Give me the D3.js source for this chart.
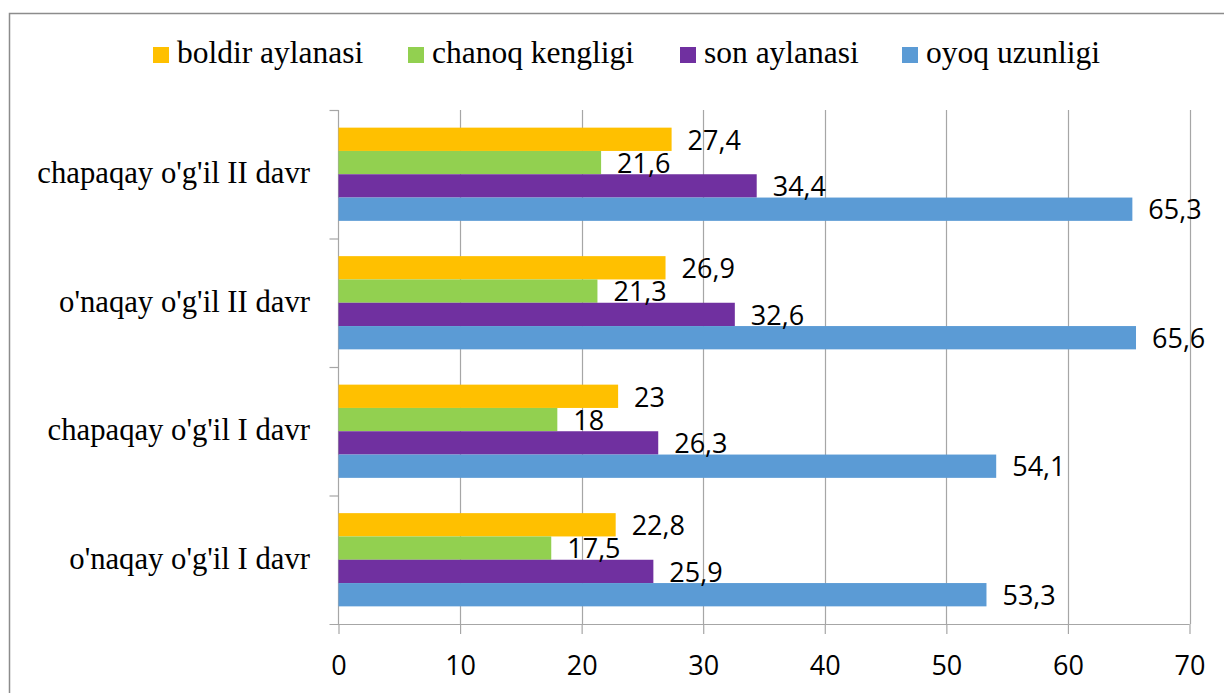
<!DOCTYPE html>
<html>
<head>
<meta charset="utf-8">
<script src="https://cdn.jsdelivr.net/npm/d3@7"></script>
<style>
  body { margin: 0; background: #fff; }
  svg { display: block; }
</style>
</head>
<body>
<div id="chart"></div>
<script>
"use strict"

const width = 1224;
const height = 693;

// groups, from top to bottom
const categories = [
    "chapaqay o'g'il II davr",
    "o'naqay o'g'il II davr",
    "chapaqay o'g'il I davr",
    "o'naqay o'g'il I davr"
];
const seriesNames = ["boldir aylanasi", "chanoq kengligi", "son aylanasi", "oyoq uzunligi"];
const seriesColors = ["#FFC000", "#92D050", "#7030A0", "#5B9BD5"];

// values per group, same order as categories
const boldirValues = [27.4, 26.9, 23, 22.8];
const chanoqValues = [21.6, 21.3, 18, 17.5];
const sonValues = [34.4, 32.6, 26.3, 25.9];
const oyoqValues = [65.3, 65.6, 54.1, 53.3];
const xTicks = [0, 10, 20, 30, 40, 50, 60, 70];

const seriesValues = [boldirValues, chanoqValues, sonValues, oyoqValues];

const plotLeft = 338.5;
const plotRight = 1189.5;
const plotTop = 110;
const plotBottom = 624;
const gridColor = "#a6a6a6";

const svg = d3.select("#chart").append("svg")
    .attr("width", width)
    .attr("height", height);

// chart frame
svg.append("rect")
    .attr("x", 9.5)
    .attr("y", 13.5)
    .attr("width", 1300)
    .attr("height", 800)
    .attr("fill", "none")
    .attr("stroke", "#8c8c8c")
    .attr("stroke-width", 1.5);

const x = d3.scaleLinear()
    .domain([0, 70])
    .range([plotLeft, plotRight]);

const y = d3.scaleBand()
    .domain(categories)
    .range([plotTop, plotBottom]);

const yInner = d3.scaleBand()
    .domain(seriesNames)
    .range([0, y.bandwidth()])
    .paddingInner(0)
    .paddingOuter(0.757);

// vertical gridlines
svg.append("g")
    .selectAll("line")
    .data(xTicks.slice(1))
    .enter()
    .append("line")
        .attr("x1", d => Math.round(x(d)) + 0.5)
        .attr("x2", d => Math.round(x(d)) + 0.5)
        .attr("y1", plotTop)
        .attr("y2", plotBottom)
        .attr("stroke", gridColor)
        .attr("stroke-width", 1.2);

// x axis
const xAxis = svg.append("g")
    .attr("transform", `translate(0,${plotBottom})`)
    .call(d3.axisBottom(x).tickValues(xTicks).tickSize(10).tickSizeOuter(0).tickPadding(22));
xAxis.select(".domain")
    .attr("d", `M${plotLeft - 9},0.5H${plotRight}`)
    .attr("stroke", gridColor)
    .attr("stroke-width", 1.2);
xAxis.selectAll(".tick line")
    .attr("stroke", gridColor)
    .attr("stroke-width", 1.2);
xAxis.selectAll(".tick text")
    .attr("font-family", "'Open Sans', sans-serif")
    .attr("font-size", "27px")
    .attr("fill", "#000");

// y axis line and category ticks
svg.append("line")
    .attr("x1", plotLeft)
    .attr("x2", plotLeft)
    .attr("y1", plotTop)
    .attr("y2", plotBottom)
    .attr("stroke", gridColor)
    .attr("stroke-width", 1.2);

svg.append("g")
    .selectAll("line")
    .data(categories)
    .enter()
    .append("line")
        .attr("x1", plotLeft - 9)
        .attr("x2", plotLeft)
        .attr("y1", d => y(d) + 0.5)
        .attr("y2", d => y(d) + 0.5)
        .attr("stroke", gridColor)
        .attr("stroke-width", 1.2);

svg.append("g")
    .selectAll("text")
    .data(categories)
    .enter()
    .append("text")
        .attr("x", 310)
        .attr("y", d => y(d) + y.bandwidth() / 2)
        .attr("dy", "0.3em")
        .attr("text-anchor", "end")
        .attr("font-family", "'Liberation Serif', 'Times New Roman', serif")
        .attr("font-size", "30.7px")
        .attr("fill", "#000")
        .text(d => d);

// bars
const barData = [];
categories.forEach((cat, i) => {
    seriesNames.forEach((name, j) => {
        barData.push({ cat: cat, series: name, color: seriesColors[j], value: seriesValues[j][i] });
    });
});

svg.append("g")
    .selectAll("rect")
    .data(barData)
    .enter()
    .append("rect")
        .attr("x", x(0))
        .attr("y", d => y(d.cat) + yInner(d.series))
        .attr("width", d => x(d.value) - x(0))
        .attr("height", yInner.bandwidth())
        .attr("fill", d => d.color);

svg.append("g")
    .selectAll("text")
    .data(barData)
    .enter()
    .append("text")
        .attr("x", d => x(d.value) + 16)
        .attr("y", d => y(d.cat) + yInner(d.series) + yInner.bandwidth() / 2)
        .attr("dy", "0.38em")
        .attr("font-family", "'Open Sans', sans-serif")
        .attr("font-size", "27px")
        .attr("fill", "#000")
        .text(d => String(d.value).replace(".", ","));

// legend
const legendX = [153, 408, 680, 902];
const legend = svg.append("g")
    .selectAll("g")
    .data(seriesNames)
    .enter()
    .append("g")
        .attr("transform", (_, i) => `translate(${legendX[i]},47)`);

legend.append("rect")
    .attr("width", 16)
    .attr("height", 16)
    .attr("fill", (_, i) => seriesColors[i]);

legend.append("text")
    .attr("x", 24)
    .attr("y", 16)
    .attr("font-family", "'Liberation Serif', 'Times New Roman', serif")
    .attr("font-size", "31.5px")
    .attr("fill", "#000")
    .text(d => d);
</script>
</body>
</html>
